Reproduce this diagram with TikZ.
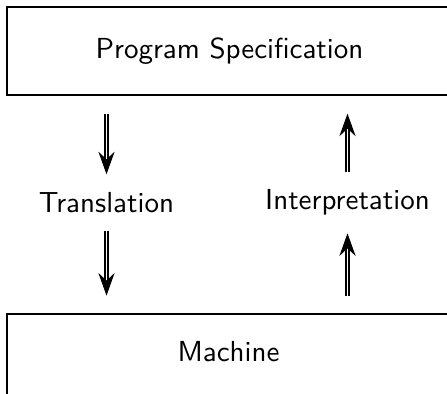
\documentclass[tikz,border=0pt]{standalone}
\usepackage{tikz}
\usetikzlibrary{
  arrows.meta,
  positioning
}
\begin{document}
\begin{tikzpicture}[
  x=0.345pt, y=-0.345pt,
  font=\sffamily,
  box/.style={
    rectangle, draw, line width=0.7pt,
    minimum width=153.4pt, minimum height=30.5pt,
    inner sep=0pt
  },
  lbl/.style={
    inner sep=0pt
  },
  impl/.style={
    double, double distance=0.6pt, line width=0.4pt,
    -{Stealth[length=7.8pt, width=5.6pt, inset=2.6pt]},
    shorten <=6pt, shorten >=6pt
  }
]
  \clip (0,0) rectangle (447,393);

  % Levels (top and bottom)
  \node[box] (spec) at (229.5,51) {Program Specification};
  \node[box, anchor=north] (mach) at (229.5,313) {};
  \node[lbl] (machtext) at (228.5,352) {Machine};

  % Labels between the levels
  \node[lbl] (trans) at (106.5,202.5) {Translation};
  \node[lbl] (interp) at (347.5,202.5) {Interpretation};

  % Downward: translation
  \draw[impl] (spec.south -| trans) -- (trans);
  \draw[impl] (trans) -- (mach.north -| trans);

  % Upward: interpretation
  \draw[impl] (mach.north -| interp) -- (interp);
  \draw[impl] (interp) -- (spec.south -| interp);
\end{tikzpicture}
\end{document}
